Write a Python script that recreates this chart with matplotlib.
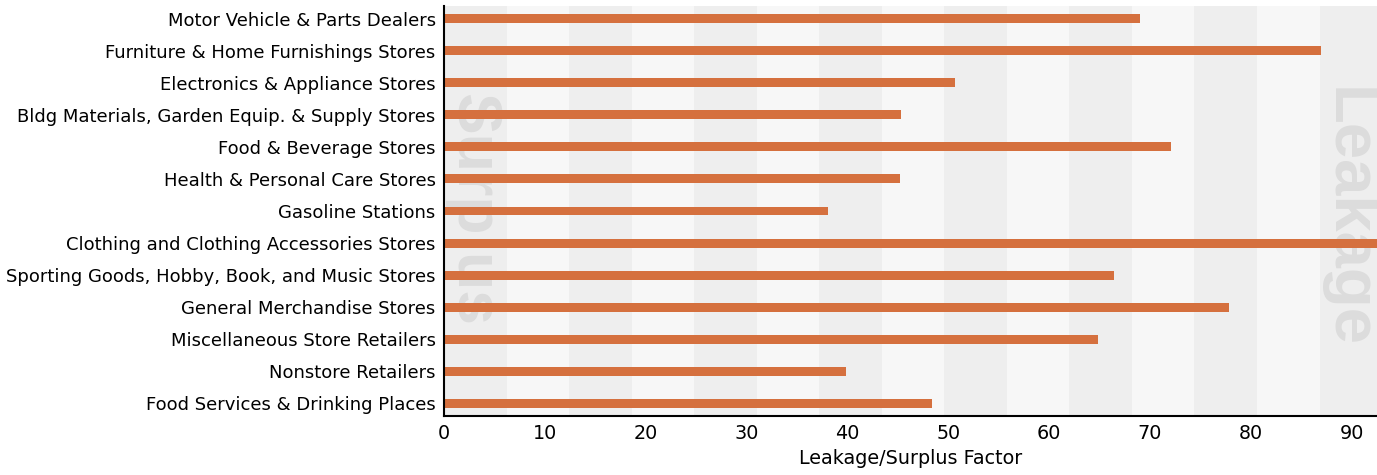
import matplotlib
matplotlib.use("Agg")
import matplotlib.pyplot as plt

# retail sectors, listed top to bottom
categories = [
    "Motor Vehicle & Parts Dealers",
    "Furniture & Home Furnishings Stores",
    "Electronics & Appliance Stores",
    "Bldg Materials, Garden Equip. & Supply Stores",
    "Food & Beverage Stores",
    "Health & Personal Care Stores",
    "Gasoline Stations",
    "Clothing and Clothing Accessories Stores",
    "Sporting Goods, Hobby, Book, and Music Stores",
    "General Merchandise Stores",
    "Miscellaneous Store Retailers",
    "Nonstore Retailers",
    "Food Services & Drinking Places",
]
factors = [69.0, 86.9, 50.7, 45.3, 72.1, 45.2, 38.1, 100.0, 66.4, 77.8, 64.8, 39.9, 48.4]
x_ticks = [0, 10, 20, 30, 40, 50, 60, 70, 80, 90]

bar_color = "#d5703e"
x_max = 92.5
band = 6.2

fig = plt.figure(figsize=(13.77, 4.75), dpi=100)
ax = fig.add_axes([444 / 1377, 1 - 416 / 475, 1 - 444 / 1377, (416 - 6) / 475])

# alternating background bands
ax.set_facecolor("#f7f7f7")
i = 0
x = 0.0
while x < x_max:
    if i % 2 == 0:
        ax.axvspan(x, x + band, color="#eeeeee", lw=0, zorder=0)
    x += band
    i += 1

# watermark labels on each side
ax.text(2.8, 5.95, "Surplus", rotation=-90, ha="center", va="center",
        fontsize=45, fontweight="bold", family="Liberation Sans",
        color="#dcdcdc", zorder=1)
ax.text(89.6, 6.2, "Leakage", rotation=-90, ha="center", va="center",
        fontsize=47, fontweight="bold", family="Liberation Sans",
        color="#dcdcdc", zorder=1)

y = list(range(len(categories)))
ax.barh(y, factors, height=0.28, color=bar_color, zorder=2)

ax.set_yticks(y)
ax.set_yticklabels(categories, fontsize=13)
ax.set_ylim(len(categories) - 0.6, -0.4)
ax.set_xlim(0, x_max)
ax.set_xticks(x_ticks)
ax.tick_params(axis="x", labelsize=13.8, length=0, pad=6)
ax.tick_params(axis="y", length=0, pad=6)
ax.set_xlabel("Leakage/Surplus Factor", fontsize=13.8, labelpad=4)

for side in ["top", "right"]:
    ax.spines[side].set_visible(False)
ax.spines["left"].set_linewidth(1.5)
ax.spines["bottom"].set_linewidth(1.5)

fig.savefig("out.png", dpi=100)
